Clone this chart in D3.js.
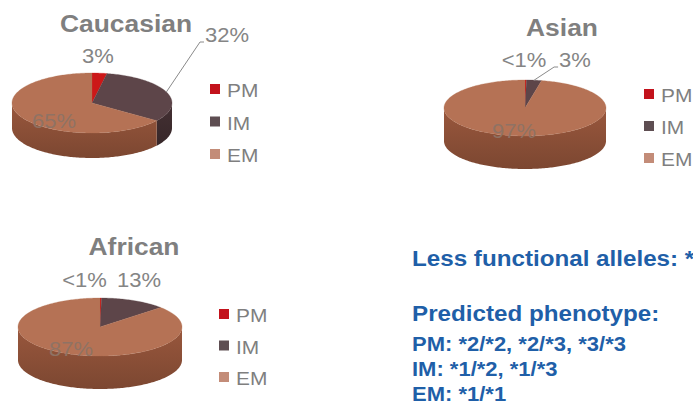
<!DOCTYPE html>
<html><head><meta charset="utf-8">
<script src="https://cdn.jsdelivr.net/npm/d3@7"></script>
<style>html,body{margin:0;padding:0;background:#fff;overflow:hidden}</style>
</head><body><svg id="c" width="693" height="406"></svg>
<script>
// ---------- data ----------
const categories = ["PM", "IM", "EM"];
const groupNames = ["Caucasian", "Asian", "African"];
const caucasianValues = [3, 32, 65];
const asianValues = [0.3, 3, 97];
const africanValues = [0.3, 13, 87];
const caucasianLabels = ["3%", "32%", "65%"];
const asianLabels = ["<1%", "3%", "97%"];
const africanLabels = ["<1%", "13%", "87%"];
const noteHeadings = ["Less functional alleles: *", "Predicted phenotype:"];
const noteLines = ["PM: *2/*2, *2/*3, *3/*3", "IM: *1/*2, *1/*3", "EM: *1/*1"];

// ---------- layout ----------
const SX = 1.1; // horizontal stretch of the source picture
const FONT = "'Liberation Sans', Arial, sans-serif";
const layouts = [
  {cx: 92, cy: 103, rx: 80, ry: 30, depth: 25, title: [126, 32], legend: {x: 210, y: 97, dy: 32.5},
   labels: [[6, -40, "middle"], [113, -61, "start"], [-38, 25, "middle"]], leaders: [1]},
  {cx: 525, cy: 108, rx: 81, ry: 28, depth: 33, title: [562, 36], legend: {x: 644, y: 102, dy: 32},
   labels: [[-1, -41, "middle"], [50, -41, "middle"], [-11, 30, "middle"]], leaders: [1]},
  {cx: 100, cy: 327, rx: 82, ry: 29, depth: 33, title: [134, 255], legend: {x: 219, y: 322, dy: 31.5},
   labels: [[-15.5, -40, "middle"], [39, -40, "middle"], [-29, 29, "middle"]], leaders: []}
];
const groupValues = [caucasianValues, asianValues, africanValues];
const groupLabels = [caucasianLabels, asianLabels, africanLabels];

const color = d3.scaleOrdinal(categories, ["#cc1818", "#5d4549", "#b57255"]);
const sideColor = d3.scaleOrdinal(categories, ["#8e1010", "#3e2c2f", "#8c5038"]);
const legendColor = d3.scaleOrdinal(categories, ["#c3121c", "#5e4e52", "#c38c78"]);

const svg = d3.select("#c");
const defs = svg.append("defs");

function addText(g, x, y, txt, opts) {
  return g.append("text")
    .attr("transform", `translate(${x},${y}) scale(${SX},1)`)
    .attr("font-family", FONT)
    .attr("font-size", opts.size)
    .attr("font-weight", opts.weight || "normal")
    .attr("fill", opts.fill)
    .attr("text-anchor", opts.anchor || "start")
    .text(txt);
}

const pie = d3.pie().sort(null).value(d => d);
const line = d3.line();

function ep(L, a, dz) {
  return [L.cx + L.rx * Math.sin(a), L.cy - L.ry * Math.cos(a) + (dz || 0)];
}
function arcPts(L, a0, a1, dz) {
  const n = Math.max(2, Math.ceil((a1 - a0) / 0.02));
  const pts = [];
  for (let i = 0; i <= n; i++) pts.push(ep(L, a0 + (a1 - a0) * i / n, dz));
  return pts;
}

groupNames.forEach((name, gi) => {
  const L = layouts[gi];
  const vals = groupValues[gi];
  const labs = groupLabels[gi];
  const g = svg.append("g");
  const arcs = pie(vals);

  categories.forEach((c, ci) => {
    const gr = defs.append("linearGradient").attr("id", `side${gi}_${ci}`)
      .attr("x1", 0).attr("y1", 0).attr("x2", 0).attr("y2", 1);
    gr.append("stop").attr("offset", "0%").attr("stop-color", d3.color(sideColor(c)).brighter(0.25));
    gr.append("stop").attr("offset", "100%").attr("stop-color", d3.color(sideColor(c)).darker(0.35));
  });

  // outer walls (front half only)
  arcs.forEach((a, i) => {
    const s = Math.max(a.startAngle, Math.PI / 2), e = Math.min(a.endAngle, 3 * Math.PI / 2);
    if (e <= s) return;
    const top = arcPts(L, s, e, 0);
    const bot = arcPts(L, s, e, L.depth).reverse();
    g.append("path").attr("d", line(top.concat(bot)) + "Z")
      .attr("fill", `url(#side${gi}_${i})`);
  });
  // top faces
  arcs.forEach((a, i) => {
    const pts = [[L.cx, L.cy]].concat(arcPts(L, a.startAngle, a.endAngle, 0));
    g.append("path").attr("d", line(pts) + "Z")
      .attr("fill", color(categories[i]))
      .attr("stroke", color(categories[i])).attr("stroke-width", 0.3);
  });

  // labels
  const labelNodes = labs.map((txt, i) => {
    const [dx, dy, anchor] = L.labels[i];
    const inside = i === 2;
    return addText(g, L.cx + dx, L.cy + dy, txt, {size: 20, fill: inside ? "#8f7264" : "#858585", anchor}).node();
  });
  // leader lines
  L.leaders.forEach(i => {
    const a = arcs[i];
    const mid = (a.startAngle + a.endAngle) / 2;
    const p0 = ep(L, mid, 0);
    const [dx, dy, anchor] = L.labels[i];
    const w = labelNodes[i].getComputedTextLength() * SX;
    const lx = anchor === "start" ? L.cx + dx : L.cx + dx - w / 2;
    const ly = L.cy + dy;
    g.append("path").attr("d", line([p0, [lx - 5, ly], [lx - 1, ly]]))
      .attr("fill", "none").attr("stroke", "#8a8a8a").attr("stroke-width", 1);
  });

  // title
  addText(g, L.title[0], L.title[1], name, {size: 24, weight: "bold", fill: "#7f7f7f", anchor: "middle"});

  // legend
  categories.forEach((c, i) => {
    const y = L.legend.y + i * L.legend.dy;
    g.append("rect").attr("x", L.legend.x).attr("y", y - 13).attr("width", 10).attr("height", 10)
      .attr("fill", legendColor(c));
    addText(g, L.legend.x + 17, y, c, {size: 19, fill: "#7f7f7f"});
  });
});

// notes
const note = svg.append("g");
const headY = [266, 321];
noteHeadings.forEach((t, i) => addText(note, 412, headY[i], t, {size: 22, weight: "bold", fill: "#1f5fa8"}));
noteLines.forEach((t, i) => addText(note, 412, 351 + i * 25, t, {size: 20, weight: "bold", fill: "#1f5fa8"}));
</script>
</body></html>
